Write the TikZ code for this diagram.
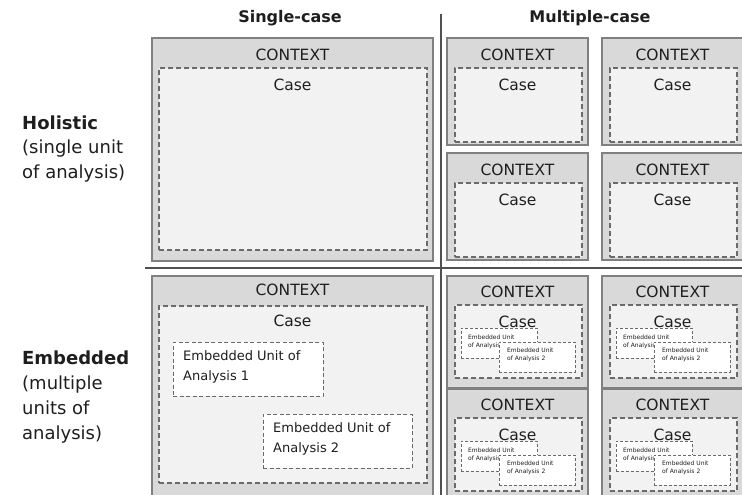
\documentclass[tikz,border=0pt]{standalone}
\usepackage{fontspec}
\setmainfont{DejaVu Sans}
\usetikzlibrary{calc}

\definecolor{ctxfill}{HTML}{D9D9D9}
\definecolor{casefill}{HTML}{F2F2F2}
\definecolor{edgegray}{HTML}{808080}
\definecolor{dashgray}{HTML}{6A6A6A}
\definecolor{rulegray}{HTML}{505050}
\definecolor{ink}{HTML}{1E1E1E}

\tikzset{
  ctxbox/.style={rectangle, draw=edgegray, fill=ctxfill, line width=1.6pt, inner sep=0pt, outer sep=0pt, anchor=north west},
  casebox/.style={rectangle, draw=dashgray, fill=casefill, line width=1.1pt, dash pattern=on 5pt off 3pt, inner sep=0pt, outer sep=0pt, anchor=north west},
  unitbox/.style={rectangle, draw=dashgray, fill=white, line width=1pt, dash pattern=on 4pt off 2.5pt, inner sep=0pt, outer sep=0pt, anchor=north west},
  smallunit/.style={rectangle, draw=dashgray, fill=white, line width=0.9pt, dash pattern=on 3pt off 2pt, inner sep=0pt, outer sep=0pt, anchor=north west},
  ctxtext/.style={inner sep=0pt, text=ink, font=\fontsize{15.5}{18}\selectfont},
  casetext/.style={inner sep=0pt, text=ink, font=\fontsize{15.5}{18}\selectfont},
  headtext/.style={inner sep=0pt, text=ink, font=\fontsize{16}{19}\selectfont\bfseries},
  sidetext/.style={inner sep=0pt, text=ink, align=left, anchor=west},
  unittext/.style={inner sep=0pt, text=ink, align=left, anchor=north west, font=\fontsize{13}{20}\selectfont},
  tinytext/.style={inner sep=0pt, text=ink, align=left, anchor=north west, font=\fontsize{6}{7.5}\selectfont},
  divider/.style={draw=rulegray, line width=2pt}
}

% one small context/case panel (holistic, multiple-case)
\newcommand\holpanel[3]{%
  \node[ctxbox, minimum width=141pt, minimum height=107pt] (#1) at (#2,#3) {};
  \node[casebox, minimum width=127pt, minimum height=74pt] (#1c) at (#2+8,#3+30) {};
  \node[ctxtext] (#1t) at (#2+70.5,#3+17) {CONTEXT};
  \node[casetext] (#1k) at (#2+70.5,#3+47) {Case};
}

% one small context/case panel with two embedded units
\newcommand\embpanel[3]{%
  \node[ctxbox, minimum width=141pt, minimum height=112pt] (#1) at (#2,#3) {};
  \node[casebox, minimum width=127pt, minimum height=73pt] (#1c) at (#2+8,#3+29) {};
  \node[ctxtext] (#1t) at (#2+70.5,#3+16) {CONTEXT};
  \node[casetext] (#1k) at (#2+70.5,#3+46) {Case};
  \node[smallunit, minimum width=76pt, minimum height=30pt] (#1a) at (#2+14,#3+52) {};
  \node[tinytext] (#1at) at (#2+21,#3+59) {Embedded Unit\\of Analysis 1};
  \node[smallunit, minimum width=76pt, minimum height=30pt] (#1b) at (#2+52,#3+66) {};
  \node[tinytext] (#1bt) at (#2+60,#3+72) {Embedded Unit\\of Analysis 2};
}

\begin{document}
\begin{tikzpicture}[x=1pt, y=-1pt]
  \useasboundingbox (0,0) rectangle (742,495);
  \clip (0,0) rectangle (742,495);

  % column headings
  \node[headtext] (hsingle) at (290,18) {Single-case};
  \node[headtext] (hmulti) at (590,18) {Multiple-case};

  % row headings
  \node[sidetext, font=\fontsize{18}{24.5}\selectfont] (hol) at (22,149)
    {\textbf{Holistic}\\(single unit\\of analysis)};
  \node[sidetext, font=\fontsize{18}{25}\selectfont] (emb) at (22,397.5)
    {\textbf{Embedded}\\(multiple\\units of\\analysis)};

  % dividers
  \coordinate (vtop) at (441,14);
  \coordinate (vbot) at (441,495);
  \coordinate (hleft) at (145,268);
  \coordinate (hright) at (742,268);
  \draw[divider] (vtop) -- (vbot);
  \draw[divider] (hleft) -- (hright);

  % holistic, single-case
  \node[ctxbox, minimum width=281pt, minimum height=223pt] (hs) at (152,38) {};
  \node[casebox, minimum width=268pt, minimum height=182pt] (hsc) at (159,68) {};
  \node[ctxtext] (hst) at (292.5,55) {CONTEXT};
  \node[casetext] (hsk) at (292.5,85) {Case};

  % holistic, multiple-case
  \holpanel{hm1}{447}{38}
  \holpanel{hm2}{602}{38}
  \holpanel{hm3}{447}{153}
  \holpanel{hm4}{602}{153}

  % embedded, single-case
  \node[ctxbox, minimum width=281pt, minimum height=235pt] (es) at (152,276) {};
  \node[casebox, minimum width=268pt, minimum height=177pt] (esc) at (159,306) {};
  \node[ctxtext] (est) at (292.5,290) {CONTEXT};
  \node[casetext] (esk) at (292.5,321) {Case};
  \node[unitbox, minimum width=150pt, minimum height=54pt] (esa) at (173,342) {};
  \node[unittext] (esat) at (183,350) {Embedded Unit of\\Analysis 1};
  \node[unitbox, minimum width=149pt, minimum height=54pt] (esb) at (263,414) {};
  \node[unittext] (esbt) at (273,422) {Embedded Unit of\\Analysis 2};

  % embedded, multiple-case
  \embpanel{em1}{447}{276}
  \embpanel{em2}{602}{276}
  \embpanel{em3}{447}{389}
  \embpanel{em4}{602}{389}
\end{tikzpicture}
\end{document}
